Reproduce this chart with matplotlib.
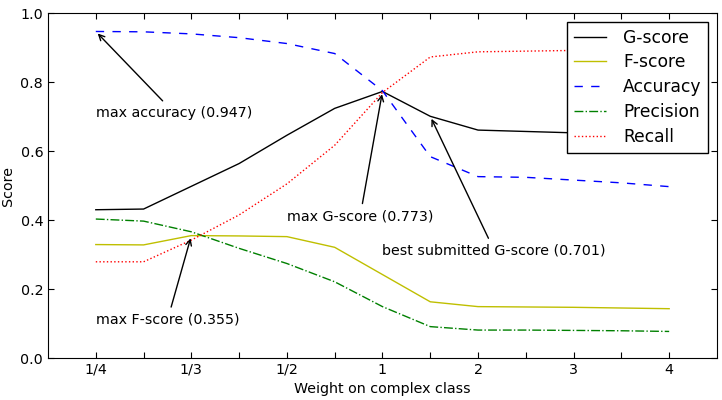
import matplotlib.pyplot as plt

weights = ['1/4', '', '1/3', '', '1/2', '', '1', '', '2', '', '3', '', '4']

g_score = [0.430, 0.432, 0.498, 0.564, 0.646, 0.724, 0.773, 0.701, 0.661, 0.657, 0.653, 0.651, 0.649]
f_score = [0.329, 0.328, 0.355, 0.354, 0.352, 0.321, 0.242, 0.163, 0.149, 0.148, 0.147, 0.145, 0.143]
accuracy = [0.947, 0.946, 0.940, 0.929, 0.912, 0.883, 0.775, 0.584, 0.526, 0.524, 0.516, 0.508, 0.497]
precision = [0.403, 0.397, 0.366, 0.318, 0.274, 0.221, 0.149, 0.091, 0.081, 0.081, 0.080, 0.079, 0.077]
recall = [0.279, 0.279, 0.342, 0.415, 0.505, 0.617, 0.770, 0.873, 0.888, 0.890, 0.892, 0.893, 0.895]

x = list(range(len(weights)))

fig = plt.figure(figsize=(7.22, 4.0), dpi=100)
ax = fig.add_axes([0.0665, 0.105, 0.9265, 0.862])

ax.plot(x, g_score, color='k', linestyle='-', linewidth=1, label='G-score')
ax.plot(x, f_score, color='#bfbf00', linestyle='-', linewidth=1, label='F-score')
ax.plot(x, accuracy, color='b', linestyle='--', linewidth=1, dashes=(6, 6), label='Accuracy')
ax.plot(x, precision, color='g', linestyle='-.', linewidth=1, label='Precision')
ax.plot(x, recall, color='r', linestyle=':', linewidth=1, label='Recall')

fs = 10.3
arrow = dict(arrowstyle='->', color='k', linewidth=1)
ax.annotate('max accuracy (0.947)', xy=(0, accuracy[0]), xytext=(0, 0.70),
            arrowprops=arrow, fontsize=fs)
ax.annotate('max F-score (0.355)', xy=(2, f_score[2]), xytext=(0, 0.10),
            arrowprops=arrow, fontsize=fs)
ax.annotate('max G-score (0.773)', xy=(6, g_score[6]), xytext=(4, 0.40),
            arrowprops=arrow, fontsize=fs)
ax.annotate('best submitted G-score (0.701)', xy=(7, g_score[7]), xytext=(6, 0.30),
            arrowprops=arrow, fontsize=fs)

ax.set_xlim(-1, 13)
ax.set_ylim(0, 1)
ax.set_xticks(x)
ax.set_xticklabels(weights)
ax.set_yticks([0.0, 0.2, 0.4, 0.6, 0.8, 1.0])
ax.tick_params(direction='in', top=True, right=True, length=4, labelsize=fs)
ax.set_xlabel('Weight on complex class', fontsize=fs)
ax.set_ylabel('Score', fontsize=fs)

leg = ax.legend(loc='upper right', fontsize=12.3, fancybox=False, framealpha=1,
                edgecolor='k', handlelength=1.9, handletextpad=1.0,
                labelspacing=0.4)
leg.get_frame().set_linewidth(1)

plt.savefig('out.png')
